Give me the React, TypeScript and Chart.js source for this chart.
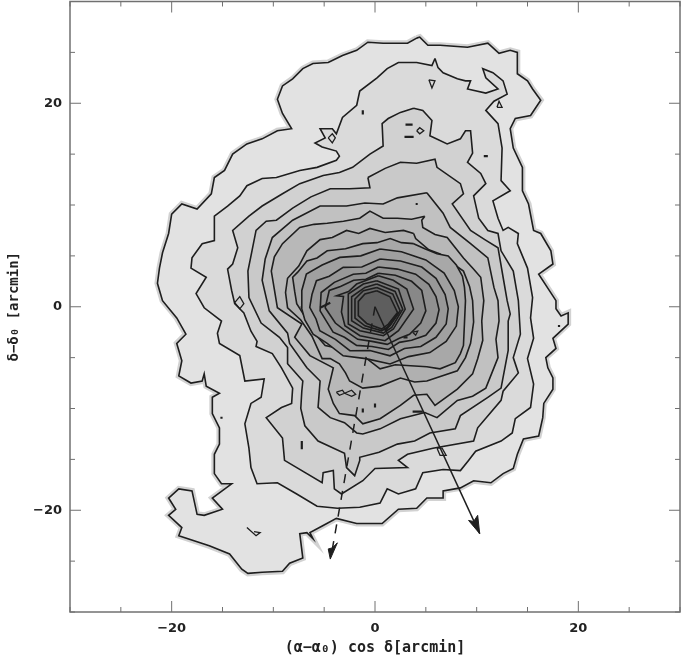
import React, { useEffect, useRef } from "react";
import { Chart, registerables } from "chart.js";

Chart.register(...registerables);

type P = number[][];

const contour1: P = [[4.1,26.4],[3.2,25.9],[0.8,25.9],[-0.7,26.0],[-1.8,25.2],[-3.2,24.7],[-4.6,24.0],[-6.1,23.9],[-7.1,23.4],[-8.1,22.4],[-9.1,21.7],[-9.6,20.4],[-9.1,19.0],[-8.2,17.5],[-9.6,17.3],[-11.1,16.5],[-12.6,16.0],[-14.0,15.0],[-14.8,13.4],[-15.8,12.7],[-16.1,11.1],[-17.5,9.6],[-19.0,10.1],[-20.0,9.1],[-20.3,7.2],[-20.9,5.3],[-21.2,3.8],[-21.4,2.3],[-20.9,0.6],[-19.5,-1.1],[-18.6,-2.7],[-19.5,-3.6],[-19.0,-5.3],[-19.3,-6.8],[-18.1,-7.5],[-17.0,-7.3],[-16.8,-6.6],[-16.6,-7.8],[-15.3,-8.5],[-16.0,-8.9],[-16.0,-10.5],[-15.3,-11.9],[-15.3,-13.5],[-15.8,-14.5],[-15.8,-16.4],[-15.1,-17.4],[-14.1,-17.4],[-16.0,-18.8],[-15.0,-19.9],[-16.8,-20.5],[-17.5,-20.4],[-18.0,-18.1],[-19.3,-17.9],[-20.3,-18.8],[-19.6,-19.9],[-20.3,-20.5],[-19.0,-21.7],[-19.3,-22.5],[-16.3,-23.5],[-14.3,-24.3],[-13.1,-25.8],[-12.5,-26.2],[-11.1,-26.1],[-9.1,-26.0],[-8.4,-25.2],[-7.1,-24.7],[-7.4,-22.3],[-6.7,-22.2],[-6.1,-22.8],[-6.4,-22.2],[-5.1,-21.5],[-3.8,-20.8],[-1.8,-21.3],[0.7,-21.3],[2.3,-19.9],[4.1,-19.8],[5.1,-18.8],[6.7,-18.8],[6.7,-18.1],[8.4,-17.8],[9.7,-17.1],[11.4,-17.3],[12.6,-16.4],[13.6,-15.9],[14.0,-14.5],[14.6,-13.0],[16.1,-12.7],[16.5,-10.9],[16.6,-9.5],[17.5,-8.1],[17.5,-7.0],[17.0,-6.0],[16.8,-5.0],[17.8,-4.1],[17.5,-3.1],[19.0,-1.7],[19.0,-0.6],[18.3,-0.9],[17.8,-0.2],[17.8,0.6],[16.1,3.2],[17.5,4.2],[17.3,5.5],[16.3,7.2],[15.6,7.5],[15.1,10.1],[14.5,11.4],[14.5,13.7],[13.6,15.6],[13.3,17.5],[13.8,18.5],[15.3,18.8],[16.3,20.3],[15.5,21.4],[15.0,22.2],[14.0,22.9],[14.0,25.0],[13.3,25.2],[12.2,24.9],[11.1,25.9],[9.1,25.5],[6.4,25.7],[5.2,25.7],[4.4,26.5],[4.1,26.4]];

const contour2: P = [[5.9,24.4],[5.6,23.7],[4.1,24.0],[2.3,24.0],[1.2,23.4],[0.2,22.5],[-1.5,21.2],[-1.8,19.8],[-3.2,18.6],[-3.8,17.0],[-4.2,17.5],[-5.4,17.5],[-4.9,16.6],[-5.9,16.1],[-5.2,15.7],[-3.8,15.3],[-3.5,14.8],[-3.8,14.4],[-5.7,13.7],[-7.4,13.4],[-9.7,12.7],[-11.1,12.6],[-12.6,11.9],[-13.3,10.9],[-14.5,9.9],[-15.8,8.9],[-15.8,6.5],[-17.0,6.2],[-18.0,4.8],[-18.1,3.8],[-16.6,2.9],[-17.6,1.3],[-16.8,-0.1],[-15.1,-1.4],[-15.5,-2.6],[-15.3,-3.6],[-13.3,-4.8],[-12.8,-7.3],[-10.9,-7.1],[-11.2,-8.9],[-12.2,-9.5],[-12.8,-11.5],[-12.4,-13.9],[-12.2,-15.8],[-11.6,-17.4],[-9.6,-17.3],[-7.7,-18.4],[-5.7,-19.6],[-3.7,-19.8],[-1.5,-19.7],[0.5,-19.3],[1.2,-17.9],[2.3,-18.4],[4.0,-17.9],[4.7,-16.3],[6.7,-16.0],[8.4,-16.1],[9.2,-15.1],[9.9,-14.2],[12.4,-13.2],[13.5,-12.4],[13.8,-11.0],[15.3,-9.9],[15.6,-7.6],[15.0,-5.1],[15.6,-3.1],[15.3,-1.1],[15.5,0.9],[15.0,3.8],[14.0,6.2],[14.1,7.2],[13.1,7.8],[12.6,7.5],[12.1,8.7],[11.6,10.4],[13.3,11.4],[12.4,12.4],[12.5,15.6],[12.1,18.0],[10.9,19.3],[11.7,20.2],[13.0,20.9],[12.6,22.2],[11.6,23.0],[10.6,23.4],[10.9,22.5],[12.1,21.4],[10.9,21.0],[9.1,21.4],[9.4,22.2],[8.9,22.2],[8.1,22.4],[6.7,23.0],[6.2,23.5],[5.9,24.4]];

const contour3: P = [[3.8,19.5],[2.5,19.1],[1.3,18.5],[0.7,18.0],[0.8,15.8],[-0.5,15.0],[-2.2,13.7],[-3.5,13.2],[-5.1,12.9],[-7.4,12.1],[-9.1,11.1],[-11.1,9.9],[-12.4,8.9],[-14.0,7.5],[-13.5,5.8],[-14.0,4.2],[-14.5,3.7],[-14.1,1.6],[-13.8,0.3],[-12.9,-0.6],[-12.2,-2.4],[-11.6,-3.4],[-11.7,-3.9],[-10.1,-4.6],[-9.2,-6.0],[-8.1,-8.0],[-8.2,-9.5],[-9.2,-9.9],[-10.7,-10.9],[-9.1,-12.9],[-8.9,-15.1],[-5.2,-17.3],[-5.1,-16.3],[-4.1,-16.1],[-4.0,-17.9],[-3.3,-18.4],[-1.2,-17.1],[0,-15.9],[3.2,-15.8],[2.3,-15.1],[3.2,-14.5],[5.7,-13.9],[9.7,-13.2],[10.1,-11.9],[12.4,-9.2],[12.6,-8.3],[14.1,-6.5],[13.6,-5.0],[14.3,-2.7],[14.1,0.6],[13.6,3.5],[12.4,5.5],[12.1,7.2],[11.1,7.5],[10.2,8.7],[9.7,10.9],[10.9,12.1],[10.4,13.1],[9.1,14.2],[9.6,15.1],[9.4,17.3],[8.9,17.3],[8.4,16.5],[7.1,16.0],[5.4,16.8],[5.6,18.3],[4.7,19.3],[3.8,19.5]];

const contour4: P = [[-0.7,12.7],[-0.5,11.7],[-2.5,11.6],[-4.4,11.6],[-6.3,10.8],[-8.1,9.7],[-9.7,8.5],[-10.7,8.4],[-11.7,7.5],[-12.1,5.5],[-12.5,3.5],[-12.4,0.9],[-11.2,-1.6],[-9.4,-3.0],[-8.6,-4.0],[-8.6,-5.6],[-7.1,-7.3],[-7.2,-8.3],[-7.3,-10.0],[-6.9,-11.7],[-5.6,-13.2],[-3.0,-14.4],[-2.8,-15.8],[-2.0,-16.6],[-1.5,-15.1],[-1.5,-14.8],[0.4,-14.3],[2.2,-13.5],[3.9,-13.2],[5.4,-12.4],[7.9,-12.0],[8.4,-10.7],[11.1,-8.9],[12.4,-8.0],[13.1,-4.3],[13.1,-1.4],[13.3,-0.7],[13.0,0.6],[12.6,2.9],[12.1,5.8],[10.8,6.6],[9.4,7.5],[7.6,10.1],[8.7,11.1],[8.4,12.1],[6.1,13.7],[5.9,14.5],[4.1,14.1],[2.5,14.2],[1.0,13.6],[-0.7,12.7]];

const contour5: P = [[5.1,11.2],[2.2,10.7],[0.8,10.1],[-1.0,10.2],[-2.8,9.9],[-5.4,9.9],[-8.1,8.5],[-10.1,6.8],[-10.8,4.7],[-11.1,2.6],[-10.4,-0.4],[-8.6,-2.6],[-8.4,-3.6],[-6.7,-6.0],[-5.4,-7.3],[-5.6,-9.9],[-4.4,-10.9],[-3.0,-11.4],[-1.8,-12.4],[-1.2,-12.5],[0.5,-12.0],[2.5,-11.0],[4.9,-10.4],[6.1,-10.9],[8.1,-9.2],[9.6,-8.8],[10.9,-8.0],[12.1,-5.0],[11.9,-3.2],[12.2,-1.4],[12.1,0.6],[11.7,1.9],[11.1,4.8],[9.4,6.2],[7.4,7.8],[6.7,9.2],[5.1,11.2]];

const contour6: P = [[4.9,8.9],[3.6,8.6],[2.2,8.7],[0.8,8.7],[-0.5,9.4],[-1.5,8.7],[-3.1,8.4],[-4.7,8.2],[-6.0,8.1],[-7.4,7.8],[-9.1,6.2],[-9.9,4.9],[-10.2,3.5],[-9.9,1.7],[-9.6,-0.1],[-7.2,-1.7],[-7.9,-3.0],[-6.4,-4.8],[-4.1,-6.0],[-4.6,-8.1],[-4.1,-9.5],[-3.5,-10.5],[-2.0,-10.7],[-1.2,-11.5],[0.5,-11.0],[2.5,-9.7],[3.8,-8.7],[5.1,-8.6],[5.9,-9.7],[8.1,-8.1],[9.6,-6.6],[10.1,-5.1],[10.6,-3.3],[10.5,-1.4],[10.7,0.6],[10.4,2.9],[9.6,3.8],[8.7,4.8],[7.1,6.8],[5.9,7.1],[4.7,7.8],[4.6,8.5],[4.9,8.9]];

const contour7: P = [[3.8,7.2],[2.8,7.5],[1.0,7.3],[-0.5,7.7],[-1.6,7.2],[-2.8,7.5],[-4.2,6.8],[-5.4,6.6],[-6.7,5.5],[-7.5,4.0],[-8.6,2.8],[-8.8,1.4],[-8.6,-0.1],[-7.3,-1.3],[-6.2,-2.9],[-5.2,-5.1],[-4.4,-5.1],[-3.5,-5.6],[-2.9,-6.5],[-2.5,-7.3],[-1.2,-8.0],[0.5,-7.8],[2.5,-7.0],[3.9,-7.4],[5.1,-7.3],[8.1,-6.3],[8.9,-5.0],[9.4,-3.6],[9.7,-1.5],[9.6,0.6],[9.3,2.0],[8.7,3.5],[7.7,4.2],[6.4,5.2],[5.3,5.6],[4.0,6.7],[3.8,7.2]];

const contour8: P = [[3.8,6.2],[2.6,6.3],[1.5,6.7],[0.2,6.3],[-1.2,6.2],[-2.9,5.7],[-4.7,5.5],[-5.7,4.8],[-6.7,4.5],[-7.6,3.4],[-8.1,2.9],[-7.9,1.5],[-7.7,0.3],[-7.0,-0.8],[-6.1,-2.1],[-5.6,-3.0],[-4.9,-3.8],[-4.0,-4.0],[-3.0,-4.6],[-1.9,-4.7],[-0.8,-5.1],[0.5,-6.1],[2.0,-5.7],[3.5,-5.8],[5.1,-5.9],[6.4,-6.1],[7.9,-5.5],[8.4,-4.6],[8.7,-3.8],[8.8,-1.6],[8.9,0.6],[8.8,1.9],[8.6,3.0],[8.0,4.1],[7.2,5.0],[6.1,5.2],[4.9,5.7],[3.8,6.2]];

const contour9: P = [[0.5,5.67],[2.6,5.4],[5.0,4.6],[6.8,3.3],[7.8,1.6],[8.2,0],[8.0,-1.9],[7.0,-3.4],[5.4,-4.5],[3.3,-4.9],[1.48,-5.63],[-0.9,-5.1],[-3.13,-4.82],[-4.7,-3.6],[-6.09,-2.69],[-6.9,-1.3],[-7.24,-0.06],[-7.2,1.6],[-6.75,3.21],[-5.2,4.1],[-3.46,4.85],[-1.4,5.0],[0.5,5.67]];
const contour10: P = [[0.5,4.69],[2.5,4.5],[4.6,3.9],[6.0,2.8],[6.9,1.2],[7.2,-0.2],[7.0,-1.7],[6.0,-3.0],[4.5,-3.9],[2.9,-4.1],[1.48,-4.82],[-0.5,-4.3],[-2.47,-4.32],[-3.9,-3.2],[-5.43,-2.36],[-5.8,-1.2],[-6.42,-0.06],[-6.2,1.2],[-5.76,2.56],[-4.5,3.0],[-3.13,3.87],[-1.3,3.9],[0.5,4.69]];
const contour11: P = [[0.33,3.9],[2.2,3.7],[4.0,3.2],[5.3,2.2],[6.0,1.0],[6.3,-0.3],[6.0,-1.6],[5.0,-2.8],[3.6,-3.3],[2.4,-3.5],[1.32,-4.2],[-0.3,-3.9],[-1.81,-3.8],[-3.0,-3.0],[-4.12,-2.5],[-5.4,-0.4],[-5.3,1.4],[-4.0,2.4],[-2.14,3.2],[-0.9,3.3],[0.33,3.9]];
const contour11b: P = [[0.33,3.3],[2.0,3.1],[3.6,2.5],[4.6,1.6],[5.0,-0.4],[4.5,-1.6],[3.4,-2.7],[2.4,-3.1],[1.2,-3.7],[-0.3,-3.4],[-1.7,-3.2],[-3.0,-2.3],[-3.9,-1.6],[-4.9,-0.1],[-4.5,1.6],[-3.4,2.0],[-2.1,2.6],[-0.9,2.7],[0.33,3.3]];
const contour12: P = [[0.33,3.05],[1.8,2.6],[3.13,1.74],[3.79,-0.23],[2.31,-2.36],[0.99,-3.34],[-1.48,-2.85],[-2.96,-1.87],[-3.3,-0.5],[-3.1,1.0],[-3.79,1.08],[-2.6,1.5],[-1.81,2.23],[0.33,3.05]];
const contour13: P = [[0.17,2.56],[2.31,1.74],[2.97,-0.23],[1.81,-2.19],[0.82,-2.85],[-1.48,-2.36],[-2.63,-1.7],[-2.63,1.25],[-1.15,2.23],[0.17,2.56]];
const contour14: P = [[0.17,2.23],[1.98,1.51],[2.73,-0.23],[1.65,-2.03],[0.82,-2.59],[-1.15,-2.1],[-2.3,-1.37],[-2.3,0.98],[-0.99,1.9],[0.17,2.23]];
const contour15: P = [[0.17,1.9],[1.75,1.25],[2.47,-0.39],[1.48,-1.87],[0.66,-2.36],[-0.99,-1.87],[-1.97,-1.11],[-1.97,0.76],[-1.15,1.57],[0.17,1.9]];
const contour16: P = [[0.17,1.57],[1.48,0.98],[2.21,-0.56],[1.32,-1.7],[0.66,-2.19],[-0.82,-1.64],[-1.64,-0.88],[-1.64,0.53],[-0.99,1.25],[0.17,1.57]];

const contours: P[] = [contour1, contour2, contour3, contour4, contour5, contour6, contour7, contour8, contour9, contour10, contour11, contour11b, contour12, contour13, contour14, contour15, contour16];
const grays = ["#e2e2e2", "#dadada", "#d1d1d1", "#c9c9c9", "#c1c1c1", "#b8b8b8", "#b0b0b0", "#a8a8a8", "#a0a0a0", "#989898", "#909090", "#888888", "#808080", "#787878", "#707070", "#686868", "#5e5e5e"];

const islands: P[] = [
  [[5.3,22.3],[5.9,22.2],[5.6,21.5],[5.3,22.3]],
  [[-4.6,16.6],[-4.2,17.0],[-3.9,16.6],[-4.2,16.1],[-4.6,16.6]],
  [[4.1,17.3],[4.4,17.6],[4.8,17.3],[4.4,17.0],[4.1,17.3]],
  [[12.0,19.6],[12.2,20.2],[12.5,19.6],[12.0,19.6]],
  [[-13.8,0.4],[-13.3,1.0],[-12.9,0.3],[-13.3,-0.2],[-13.8,0.4]],
  [[-12.6,-21.7],[-11.7,-22.5],[-11.3,-22.2],[-11.9,-22.1]],
  [[-3.8,-8.4],[-3.2,-8.2],[-3.0,-8.5],[-3.5,-8.7],[-3.8,-8.4]],
  [[-3.0,-8.5],[-2.3,-8.2],[-1.9,-8.6],[-2.3,-8.8],[-3.0,-8.5]],
  [[6.1,-13.9],[6.6,-13.9],[7.0,-14.6],[6.4,-14.6],[6.1,-13.9]],
  [[3.7,-2.5],[4.2,-2.4],[4.0,-2.8],[3.7,-2.5]],
];
const dashes: P[] = [
  [[3.0,17.9],[3.7,17.9]],
  [[2.9,16.7],[3.8,16.7]],
  [[-7.2,-13.2],[-7.2,-14.0]],
  [[3.7,-10.3],[4.7,-10.3]],
  [[2.8,-3.0],[3.2,-3.0]],
  [[-1.2,19.3],[-1.2,18.9]],
  [[10.7,14.8],[11.1,14.8]],
  [[4.0,10.1],[4.2,10.1]],
  [[18.1,-1.8],[18.1,-2.0]],
  [[-15.1,-10.8],[-15.1,-11.0]],
  [[-1.2,-10.0],[-1.2,-10.4]],
  [[0,-9.5],[0,-9.9]],
  [[2.3,-0.6],[1.0,-2.4]],
  [[-5.4,-0.1],[-4.4,0.4]],
];

const solidArrow: P = [[0,0],[10.3,-22.3]];
const solidHead: P = [[9.2,-21.0],[10.3,-22.3],[10.1,-20.5],[9.7,-21.1],[9.2,-21.0]];
const dashedArrow: P = [[0,0],[-4.3,-24.4]];
const dashedHead: P = [[-4.6,-23.8],[-4.4,-24.8],[-3.7,-23.2],[-4.2,-23.7],[-4.6,-23.8]];

const xTitle = "(α−α₀) cos δ[arcmin]";
const yTitle = "δ−δ₀ [arcmin]";
const labelled = [-20, 0, 20];

const toPts = (p: P) => p.map(([x, y]) => ({ x, y }));
const INK = "#1e1e1e";

export default function App() {
  const ref = useRef<HTMLCanvasElement>(null);
  useEffect(() => {
    const ds: any[] = [];
    ds.push({ data: toPts(contour1), borderColor: "#d2d2d2", borderWidth: 6, fill: false });
    contours.forEach((c, i) => {
      ds.push({ data: toPts(c), borderColor: INK, borderWidth: 1.6, backgroundColor: grays[i], fill: "shape" });
    });
    islands.forEach((c) => ds.push({ data: toPts(c), borderColor: INK, borderWidth: 1.3, fill: false }));
    dashes.forEach((c) => ds.push({ data: toPts(c), borderColor: INK, borderWidth: 2.2, fill: false }));
    ds.push({ data: toPts(solidArrow), borderColor: INK, borderWidth: 1.5, fill: false });
    ds.push({ data: toPts(solidHead), borderColor: INK, borderWidth: 1, backgroundColor: INK, fill: "shape" });
    ds.push({ data: toPts(dashedArrow), borderColor: INK, borderWidth: 1.5, borderDash: [9, 8], fill: false });
    ds.push({ data: toPts(dashedHead), borderColor: INK, borderWidth: 1, backgroundColor: INK, fill: "shape" });
    ds.forEach((d, i) => {
      d.order = ds.length - i;
      d.showLine = true;
      d.pointRadius = 0;
      d.tension = 0;
    });

    const frame = {
      id: "frame",
      afterDatasetsDraw(chart: any) {
        const { ctx, chartArea: a, scales } = chart;
        ctx.save();
        ctx.strokeStyle = "#707070";
        ctx.lineWidth = 1.5;
        ctx.strokeRect(a.left, a.top, a.right - a.left, a.bottom - a.top);
        ctx.lineWidth = 1;
        ctx.beginPath();
        scales.x.ticks.forEach((t: any) => {
          const px = scales.x.getPixelForValue(t.value);
          const len = t.value % 20 === 0 ? 11 : 5;
          ctx.moveTo(px, a.bottom); ctx.lineTo(px, a.bottom - len);
          ctx.moveTo(px, a.top); ctx.lineTo(px, a.top + len);
        });
        scales.y.ticks.forEach((t: any) => {
          const py = scales.y.getPixelForValue(t.value);
          const len = t.value % 20 === 0 ? 11 : 5;
          ctx.moveTo(a.left, py); ctx.lineTo(a.left + len, py);
          ctx.moveTo(a.right, py); ctx.lineTo(a.right - len, py);
        });
        ctx.stroke();
        ctx.restore();
      },
    };

    const tickFont = { family: "'DejaVu Sans'", size: 13, weight: "bold" as const };
    const xTitleFont = { family: "'DejaVu Sans Mono'", size: 15, weight: "bold" as const };
    const yTitleFont = { family: "'DejaVu Sans Mono'", size: 14, weight: "bold" as const };
    const label = (v: any) => (labelled.includes(v) ? String(v).replace("-", "−") : "");
    const noPad = (s: any) => {
      s.paddingTop = 0; s.paddingBottom = 0; s.paddingLeft = 0; s.paddingRight = 0;
    };
    const chart = new Chart(ref.current!, {
      type: "scatter",
      data: { datasets: ds },
      plugins: [frame],
      options: {
        animation: false,
        responsive: false,
        layout: { autoPadding: false, padding: { top: 1.5, right: 3, left: 0, bottom: 0 } },
        plugins: { legend: { display: false }, tooltip: { enabled: false } },
        scales: {
          x: {
            type: "linear", min: -30, max: 30,
            grid: { display: false },
            border: { display: false },
            afterFit: (s: any) => { s.height = 49; noPad(s); },
            ticks: { stepSize: 5, autoSkip: false, maxRotation: 0, padding: 1, color: "#222", font: tickFont, callback: label },
            title: { display: true, text: xTitle, color: "#222", font: xTitleFont, padding: { top: 0, bottom: 4 } },
          },
          y: {
            type: "linear", min: -30, max: 30,
            grid: { display: false },
            border: { display: false },
            afterFit: (s: any) => { s.width = 70; noPad(s); },
            ticks: { stepSize: 5, autoSkip: false, padding: 0, color: "#222", font: tickFont, callback: label },
            title: { display: true, text: yTitle, color: "#222", font: yTitleFont, padding: { top: 6, bottom: 0 } },
          },
        },
      },
    } as any);
    return () => chart.destroy();
  }, []);
  return (
    <div style={{ position: "fixed", left: 0, top: 0, width: 683, height: 661, background: "#fff" }}>
      <canvas ref={ref} width={683} height={661} style={{ display: "block" }} />
    </div>
  );
}
